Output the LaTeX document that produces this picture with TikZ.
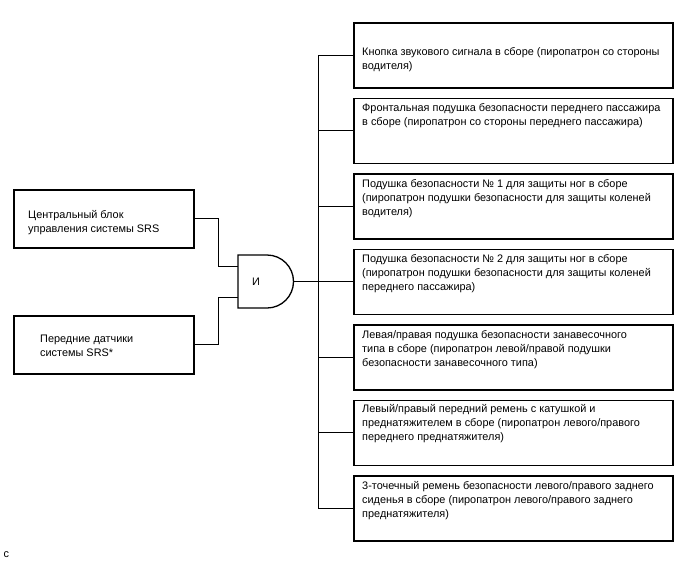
\documentclass[tikz,border=0pt]{standalone}
\usepackage{fontspec}
\setmainfont{Liberation Sans}
\begin{document}
\begin{tikzpicture}[x=1pt,y=-1pt,
  rbox/.style={draw, line width=1.7pt, minimum width=319pt, minimum height=65pt, anchor=north west, inner sep=0pt},
  lbox/.style={draw, line width=1.7pt, minimum width=180pt, minimum height=58pt, anchor=north west, inner sep=0pt},
  txt/.style={anchor=north west, align=left, inner sep=0pt, font=\fontsize{10.9}{14}\selectfont},
  wire/.style={line width=1pt},
]
\useasboundingbox (0,0) rectangle (688,560);
\fill[white] (0,0) rectangle (688,560);

% left boxes
\node[lbox] (A) at (13,189) {};
\node[lbox] (B) at (13,315) {};
\node[txt] (tA) at (28,210.5) {Центральный блок\\управления системы SRS};
\node[txt] (tB) at (40,334.5) {Передние датчики\\системы SRS*};

% right boxes
\node[rbox] (b1) at (353,22) {};
\node[rbox] (b2) at (353,97.5) {};
\node[rbox] (b3) at (353,173) {};
\node[rbox] (b4) at (353,248.5) {};
\node[rbox] (b5) at (353,324) {};
\node[rbox] (b6) at (353,399.5) {};
\node[rbox] (b7) at (353,475) {};

\node[txt] (t1) at (362,47.5) {Кнопка звукового сигнала в сборе (пиропатрон со стороны\\водителя)};
\node[txt] (t2) at (362,103.5) {Фронтальная подушка безопасности переднего пассажира\\в сборе (пиропатрон со стороны переднего пассажира)};
\node[txt] (t3) at (362,179.5) {Подушка безопасности № 1 для защиты ног в сборе\\(пиропатрон подушки безопасности для защиты коленей\\водителя)};
\node[txt] (t4) at (362,254.5) {Подушка безопасности № 2 для защиты ног в сборе\\(пиропатрон подушки безопасности для защиты коленей\\переднего пассажира)};
\node[txt] (t5) at (362,330.5) {Левая/правая подушка безопасности занавесочного\\типа в сборе (пиропатрон левой/правой подушки\\безопасности занавесочного типа)};
\node[txt] (t6) at (362,404.5) {Левый/правый передний ремень с катушкой и\\преднатяжителем в сборе (пиропатрон левого/правого\\переднего преднатяжителя)};
\node[txt] (t7) at (362,481.5) {3-точечный ремень безопасности левого/правого заднего\\сиденья в сборе (пиропатрон левого/правого заднего\\преднатяжителя)};

% AND gate
\draw[line width=1.3pt] (238,255) -- (267,255) arc[start angle=90, end angle=-90, radius=26.5pt] -- (238,308) -- cycle;
\node[font=\fontsize{10.9}{12}\selectfont, inner sep=0pt] (gate) at (256,282) {И};
\coordinate (gin1) at (238,266);
\coordinate (gin2) at (238,297);
\coordinate (gout) at (293.5,281.5);
\coordinate (bus) at (318,281.5);

% wires
\draw[wire] (A.east) -- ++(24,0) |- (gin1);
\draw[wire] (B.east) -- ++(24,0) |- (gin2);
\draw[wire] (gout) -- (bus);
\draw[wire] (b1.west -| bus) -- (b7.west -| bus);
\foreach \b in {b1,b2,b3,b4,b5,b6,b7} {
  \draw[wire] (\b.west -| bus) -- (\b.west);
}

\node[anchor=base west, inner sep=0pt, font=\fontsize{10.9}{12}\selectfont] (c) at (3.5,557.5) {c};
\end{tikzpicture}
\end{document}
